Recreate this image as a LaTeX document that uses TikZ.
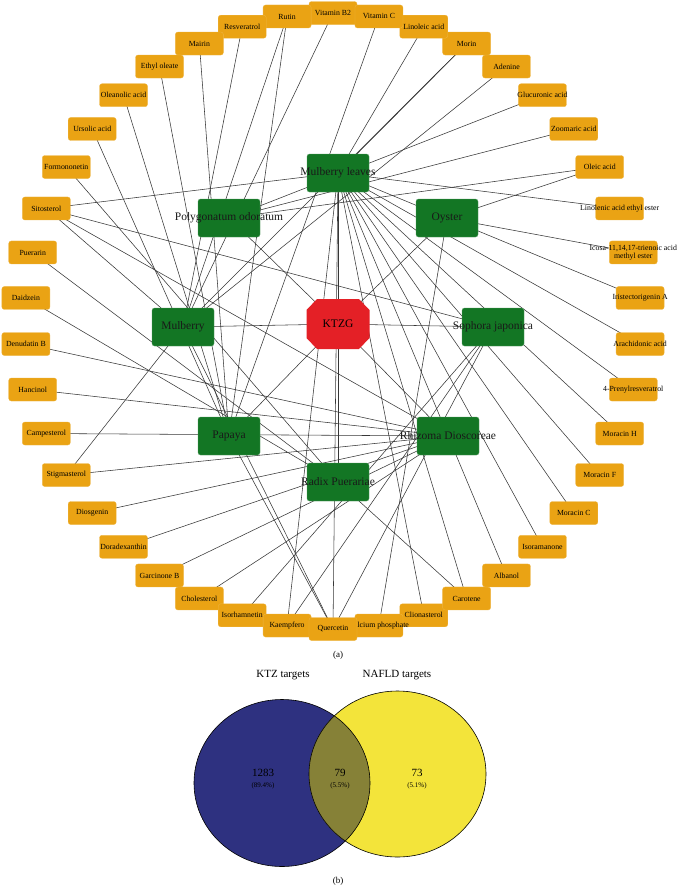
\documentclass[tikz,border=0pt]{standalone}
\usepackage{fontspec}
\setmainfont{Liberation Serif}
\usetikzlibrary{backgrounds}
\definecolor{cmpor}{RGB}{234,163,20}
\definecolor{herbg}{RGB}{19,118,36}
\definecolor{ktzred}{RGB}{228,32,38}
\definecolor{edgec}{RGB}{55,55,55}
\definecolor{vnavy}{RGB}{46,49,128}
\definecolor{vyel}{RGB}{243,228,58}
\definecolor{volive}{RGB}{134,129,55}
\tikzset{
  cmpbox/.style={rectangle, rounded corners=2.5pt, fill=cmpor, draw=cmpor!80!white, line width=0.3pt, minimum width=48pt, minimum height=23pt, inner sep=0pt},
  cmptext/.style={inner sep=0pt, align=center, font=\fontsize{7.8}{8.6}\selectfont, text=black},
  herbbox/.style={rectangle, rounded corners=2.5pt, fill=herbg, draw=herbg!70!white, line width=0.3pt, minimum width=62pt, minimum height=38pt, inner sep=0pt},
  herbtext/.style={inner sep=0pt, font=\fontsize{11.5}{13}\selectfont, text=black!90},
  edgeln/.style={draw=edgec, line width=0.55pt},
  venntext/.style={inner sep=0pt, font=\fontsize{11}{13}\selectfont},
  vennpct/.style={inner sep=0pt, font=\fontsize{7}{8}\selectfont}
}
\newcommand\cmpnode[3]{\node[cmpbox] (#1) at (#2) {}; \node[cmptext] (#1-t) at (#1) {#3};}
\newcommand\herbnode[3]{\node[herbbox] (#1) at (#2) {}; \node[herbtext] (#1-t) at (#1) {#3};}
\begin{document}
\begin{tikzpicture}[x=1pt,y=-1pt]
\useasboundingbox (0,0) rectangle (680,887);
\foreach \k in {0,...,41} \coordinate (p\k) at ({333+308*cos(90+\k*360/42)},{321-308*sin(90+\k*360/42)});
% compounds
\cmpnode{vb2}{p0}{Vitamin B2}
\cmpnode{rutin}{p1}{Rutin}
\cmpnode{resv}{p2}{Resveratrol}
\cmpnode{mairin}{p3}{Mairin}
\cmpnode{ethol}{p4}{Ethyl oleate}
\cmpnode{olean}{p5}{Oleanolic acid}
\cmpnode{ursol}{p6}{Ursolic acid}
\cmpnode{formo}{p7}{Formononetin}
\cmpnode{sitos}{p8}{Sitosterol}
\cmpnode{puer}{p9}{Puerarin}
\cmpnode{daid}{p10}{Daidzein}
\cmpnode{denud}{p11}{Denudatin B}
\cmpnode{hanc}{p12}{Hancinol}
\cmpnode{campe}{p13}{Campesterol}
\cmpnode{stigm}{p14}{Stigmasterol}
\cmpnode{diosg}{p15}{Diosgenin}
\cmpnode{dorad}{p16}{Doradexanthin}
\cmpnode{garc}{p17}{Garcinone B}
\cmpnode{chol}{p18}{Cholesterol}
\cmpnode{isorh}{p19}{Isorhamnetin}
\cmpnode{kaemp}{p20}{Kaempfero}
\cmpnode{clion}{p23}{Clionasterol}
\cmpnode{caph}{p22}{Calcium phosphate}
\cmpnode{querc}{p21}{Quercetin}
\cmpnode{carot}{p24}{Carotene}
\cmpnode{alban}{p25}{Albanol}
\cmpnode{isora}{p26}{Isoramanone}
\cmpnode{morc}{p27}{Moracin C}
\cmpnode{morf}{p28}{Moracin F}
\cmpnode{morh}{p29}{Moracin H}
\cmpnode{prenyl}{p30}{4-Prenylresveratrol}
\cmpnode{arach}{p31}{Arachidonic acid}
\cmpnode{irist}{p32}{Iristectorigenin A}
\cmpnode{icosa}{p33}{Icosa-11,14,17-trienoic acid\\methyl ester}
\cmpnode{linol}{p34}{Linolenic acid ethyl ester}
\cmpnode{oleic}{p35}{Oleic acid}
\cmpnode{zoom}{p36}{Zoomaric acid}
\cmpnode{gluc}{p37}{Glucuronic acid}
\cmpnode{aden}{p38}{Adenine}
\cmpnode{morin}{p39}{Morin}
\cmpnode{linoleic}{p40}{Linoleic acid}
\cmpnode{vitc}{p41}{Vitamin C}
% herbs
\herbnode{ml}{338,173}{Mulberry leaves}
\herbnode{po}{229,218}{Polygonatum odoratum}
\herbnode{oy}{447,218}{Oyster}
\herbnode{mu}{183,327}{Mulberry}
\herbnode{sj}{493,327}{Sophora japonica}
\herbnode{pa}{229,436}{Papaya}
\herbnode{rd}{448,436}{Rhizoma Dioscoreae}
\herbnode{rp}{338,482}{Radix Puerariae}
% KTZG octagon
\fill[ktzred, shift={(338,324)}] (-21,-25) -- (21,-25) -- (31.5,-14) -- (31.5,14) -- (21,25) -- (-21,25) -- (-31.5,14) -- (-31.5,-14) -- cycle;
\node[herbtext, text=black] (ktzg) at (338,324) {KTZG};
% edges
\begin{pgfonlayer}{background}
\fill[white] (0,0) rectangle (680,887);
\foreach \a/\b in {ktzg/ml, ktzg/po, ktzg/oy, ktzg/mu, ktzg/sj, ktzg/pa, ktzg/rd, ktzg/rp,
  vb2/mu, rutin/mu, rutin/pa, resv/mu, mairin/pa, ethol/pa, olean/pa, ursol/pa, formo/rp,
  sitos/ml, sitos/sj, sitos/mu, sitos/rd, puer/rp, daid/rp, denud/rd, hanc/rd, campe/rd,
  stigm/mu, stigm/rd, diosg/rd, dorad/rd, garc/rd, chol/rd, isorh/sj, kaemp/ml, kaemp/sj,
  querc/mu, querc/pa, querc/ml, querc/sj, caph/oy, clion/ml, carot/rp, carot/ml,
  alban/ml, isora/ml, morc/ml, morf/ml, morh/ml, prenyl/ml, arach/ml, irist/ml, icosa/oy,
  linol/ml, oleic/po, oleic/oy, zoom/po, gluc/po, aden/mu, morin/ml, morin/mu, linoleic/ml, vitc/pa}
  \draw[edgeln] (\a.center) -- (\b.center);
\end{pgfonlayer}
\node[inner sep=0pt, font=\fontsize{9}{10}\selectfont] (cap-a) at (338,655) {(a)};
% Venn
\fill[vnavy] (282,783) ellipse [x radius=88pt, y radius=83.5pt];
\fill[vyel] (397.5,774) ellipse [x radius=88.5pt, y radius=83pt];
\begin{scope}
\clip (282,783) ellipse [x radius=88pt, y radius=83.5pt];
\fill[volive] (397.5,774) ellipse [x radius=88.5pt, y radius=83pt];
\end{scope}
\draw[black, line width=0.6pt] (282,783) ellipse [x radius=88pt, y radius=83.5pt];
\draw[black, line width=0.6pt] (397.5,774) ellipse [x radius=88.5pt, y radius=83pt];
\node[venntext] (t-ktz) at (283,675) {KTZ targets};
\node[venntext] (t-naf) at (397,675) {NAFLD targets};
\node[venntext] (n1) at (263,773) {1283};
\node[vennpct] (q1) at (263,786) {(89.4\%)};
\node[venntext] (n2) at (340,773) {79};
\node[vennpct] (q2) at (340,786) {(5.5\%)};
\node[venntext] (n3) at (417,773) {73};
\node[vennpct] (q3) at (417,786) {(5.1\%)};
\node[inner sep=0pt, font=\fontsize{9}{10}\selectfont] (cap-b) at (338,881) {(b)};
\end{tikzpicture}
\end{document}
